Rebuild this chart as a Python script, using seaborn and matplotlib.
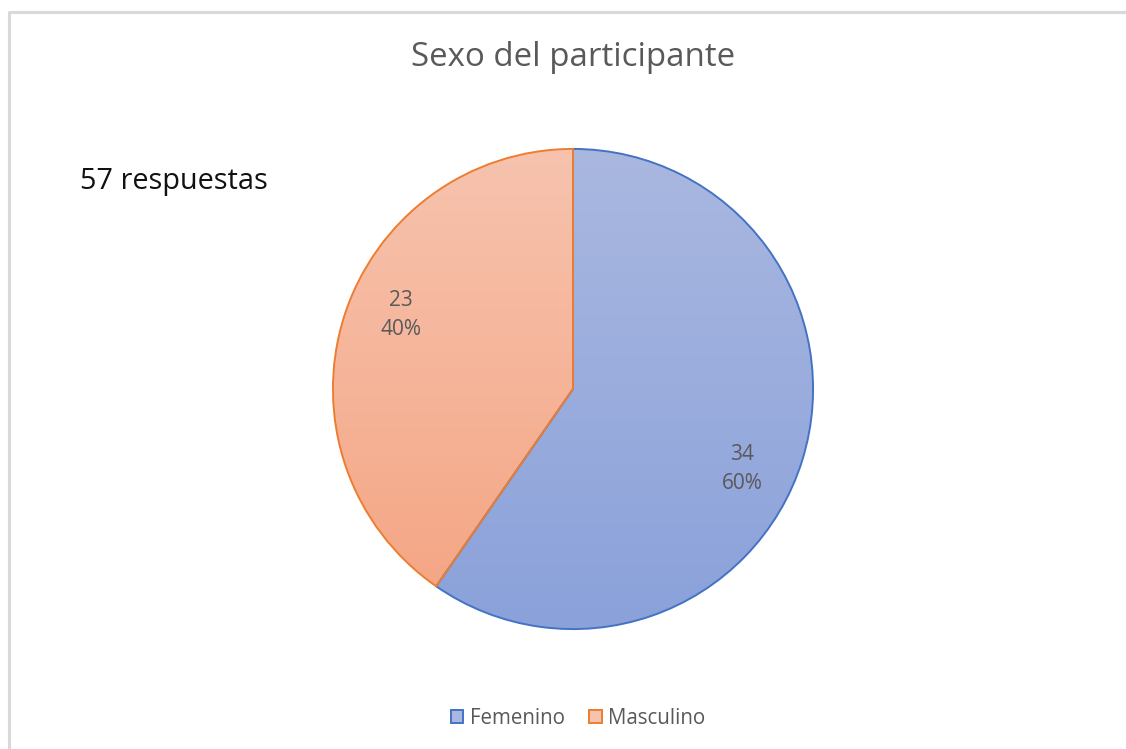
import numpy as np
import matplotlib
matplotlib.use("Agg")
import matplotlib.pyplot as plt
import seaborn as sns
from matplotlib.colors import LinearSegmentedColormap
from matplotlib.patches import Patch

categories = ["Femenino", "Masculino"]
counts = [34, 23]
title = "Sexo del participante"
note = "57 respuestas"

sns.set_theme(style="white")
plt.rcParams['font.family'] = ['Open Sans', 'DejaVu Sans']

edge_colors = ["#4472C4", "#ED7D31"]
grad_top = ["#AAB8E0", "#F7C3AE"]
grad_bot = ["#8AA1DA", "#F4A482"]
label_color = "#595959"

W, H = 1126, 749
fig = plt.figure(figsize=(W / 100, H / 100), dpi=100)

# chart border (left and top lines)
bax = fig.add_axes([0, 0, 1, 1])
bax.set_xlim(0, W); bax.set_ylim(H, 0); bax.axis("off")
bax.plot([8.5, 8.5, W], [H, 11.5, 11.5], color="#D9D9D9", lw=2.2, solid_capstyle="butt")

# pie axes: center (573, 389), radius 240
R = 242
cx, cy = 573, 389
ax = fig.add_axes([(cx - R) / W, 1 - (cy + R) / H, 2 * R / W, 2 * R / H])
total = sum(counts)
wedges, _ = ax.pie(counts, startangle=90, counterclock=False, radius=1,
                   colors=grad_top,
                   wedgeprops=dict(linewidth=1.4))
ax.set_aspect("equal")
ax.axis("off")

for i, w in enumerate(wedges):
    cmap = LinearSegmentedColormap.from_list(f"g{i}", [grad_bot[i], grad_top[i]])
    grad = np.linspace(0, 1, 256).reshape(-1, 1)
    im = ax.imshow(grad, cmap=cmap, extent=[-1, 1, -1, 1], origin="lower",
                   aspect="auto", zorder=1)
    im.set_clip_path(w)
    w.set_facecolor("none")
    w.set_edgecolor(edge_colors[i])
    w.set_zorder(2)
    theta = np.deg2rad((w.theta1 + w.theta2) / 2)
    rr = 0.78
    offs = [-8, -6][i]
    th = theta + np.deg2rad(offs)
    pct = counts[i] / total * 100
    ax.text(rr * np.cos(th), rr * np.sin(th), f"{counts[i]}\n{pct:.0f}%",
            ha="center", va="center", fontsize=15, color=label_color,
            linespacing=1.5, zorder=3)

ax.set_xlim(-1.008, 1.008); ax.set_ylim(-1.008, 1.008)

fig.text(573 / W, 1 - 58 / H, title, ha="center", va="center",
         fontsize=23.8, color=label_color)
fig.text(80 / W, 1 - 181 / H, note, ha="left", va="center",
         fontsize=20.8, color="#111111")

handles = [Patch(facecolor=grad_top[i], edgecolor=edge_colors[i], linewidth=1.4)
           for i in range(len(categories))]
fig.legend(handles, categories, loc="center", bbox_to_anchor=(578 / W, 1 - 718 / H),
           ncol=2, frameon=False, fontsize=14.8, handlelength=0.62, handleheight=0.62,
           handletextpad=0.3, columnspacing=1.2, labelcolor=label_color)

fig.savefig("out.png", dpi=100)
